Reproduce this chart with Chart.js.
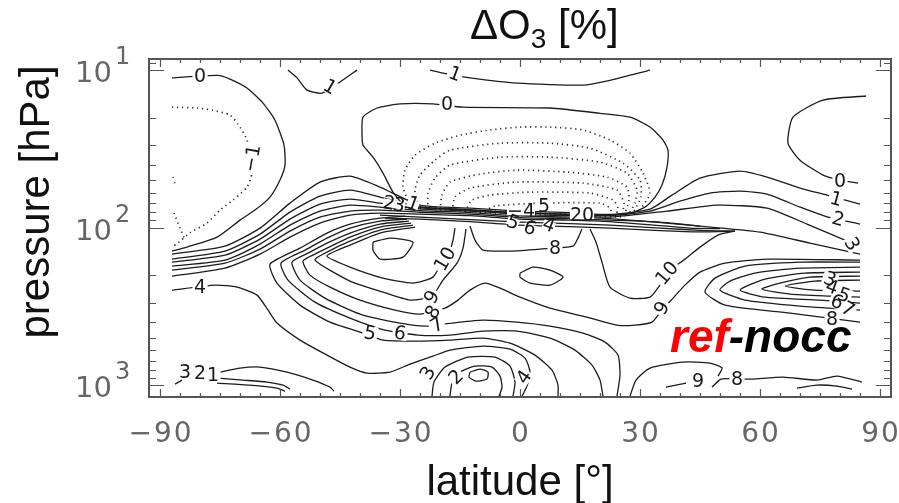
<!DOCTYPE html>
<html lang="en">
<head>
<meta charset="UTF-8">
<title>ΔO3 ref-nocc</title>
<script src="https://cdn.jsdelivr.net/npm/chart.js"></script>
<style>
  html, body { margin: 0; padding: 0; background: #fff; }
  #wrap { width: 899px; height: 503px; }
</style>
</head>
<body>
<div id="wrap"><canvas id="ozoneChart"></canvas></div>
<script>
// axis ticks
const latLabels = [-90, -60, -30, 0, 30, 60, 90];
const latMinor = [-90, -85, -80, -75, -70, -65, -60, -55, -50, -45, -40, -35, -30, -25, -20, -15, -10, -5, 0,
  5, 10, 15, 20, 25, 30, 35, 40, 45, 50, 55, 60, 65, 70, 75, 80, 85, 90];
const pressMajor = [10, 100, 1000];
const pressExp = ['1', '2', '3'];
const pressMinor = [9, 20, 30, 40, 50, 60, 70, 80, 90, 200, 300, 400, 500, 600, 700, 800, 900];

// contour lines, [latitude, pressure hPa]
const top0L = [[-87,11.2],[-75.5,10.8],[-72.5,11.4],[-68.25,13.0],[-64.25,16.2],[-61.25,20.8],[-59,29.9],[-58.75,40.1],[-60,49.9],[-62.5,64.0],[-66.25,77.4],[-70,89.6],[-75.75,115],[-83.25,133],[-87,141]];
const topM1 = [[-87,17.2],[-80.75,17.4],[-76.75,18.0],[-72.5,19.3],[-70,23.0],[-68.25,27.8],[-67.5,35.7],[-67,45.1],[-68.25,55.3],[-71.75,66.9],[-75,77.4],[-78.25,93.6],[-82.5,108],[-85.5,125],[-87,133]];
const topM2a = [[-86.75,47.8],[-86.25,53.0]];
const topM2b = [[-86.5,80.9],[-85,100.7],[-83.75,120]];
const top1L = [[-58,10.0],[-55.75,11.2],[-53.25,13.4],[-49.5,14.0],[-45,11.9],[-40.75,10.0]];
const top1R = [[-22.5,10.0],[-19.25,10.45],[-12.5,11.2],[-0.75,12.1],[15.75,12.45],[22.5,11.6],[32.5,10.0]];
const top0R = [[86.5,14.6],[75.75,15.5],[68.25,19.9],[67,29.1],[70,37.3],[75.75,46.4],[80,49.9],[84.5,52.2]];
const mid0 = [[-28.75,74.1],[-31.75,59.5],[-34.25,45.1],[-36.75,35.7],[-39.25,29.9],[-39.5,25.1],[-39.25,19.9],[-35.75,17.4],[-30,16.4],[-21.75,16.4],[-14.25,17.2],[7.5,17.4],[20,18.8],[27.5,19.9],[32.5,23.0],[35.75,27.8],[37,32.2],[36.75,41.3],[35.5,53.7],[33.75,64.0],[31.25,74.1],[27.5,80.9],[20,83.3],[10,82.1],[-5,79.7],[-17.5,76.3],[-28.75,74.1]];

const neg1 = [[-27.5,72.0],[-29.25,55.3],[-28.75,43.2],[-26.25,34.7],[-21.25,29.1],[-15,25.9],[-7.5,24.0],[0,23.0],[7.5,23.0],[15.75,24.0],[22.5,27.8],[27.5,33.7],[30.75,45.1],[32.5,60.4],[30,77.4]];
const neg2 = [[-25.5,74.1],[-26.25,57.8],[-25,46.4],[-21.25,37.3],[-17.5,32.2],[-5,29.1],[7.5,29.1],[17.5,31.3],[25.75,39.0],[30,49.9],[30.25,64.0],[28.5,78.6]];
const neg3 = [[-23,76.3],[-23,60.4],[-21.25,48.5],[-17.5,40.1],[-5,35.7],[7.5,35.7],[20,38.4],[26.75,45.1],[29.25,57.8],[28.75,69.9],[27.5,79.7]];
const neg4 = [[-20,77.4],[-19.5,62.2],[-17.5,51.4],[-10,45.7],[-0.75,43.2],[11.75,44.4],[21.75,47.8],[26.75,55.3],[27.25,66.9],[26.25,80.9]];
const neg5 = [[-17,78.6],[-16.25,64.0],[-12.5,56.1],[-0.75,51.4],[15.75,52.2],[24.25,57.8],[26,69.9],[25.5,82.1]];
const neg6 = [[-13.75,79.7],[-12,66.9],[-7.5,62.2],[2.5,59.5],[17.5,60.4],[23.25,66.9],[24.5,75.2],[24,83.3]];
const neg7 = [[-10,80.9],[-6.25,73.0],[5,69.9],[20,69.9],[22.5,75.2],[23,84.5]];
const neg8 = [[-30,74.1],[-17.5,77.4],[0,82.1],[17.5,84.5],[26.25,85.8]];
const neg9 = [[-27.5,73.0],[-12.5,77.4],[5,80.9],[20,83.3],[27.5,83.3]];

const band1 = [[-87,147.3],[-73.75,131.1],[-65,100.7],[-57.5,69.9],[-50,51.4],[-42.5,47.1],[-35,55.3],[-25,72.0],[-12.5,75.2],[0,78.6],[12.5,80.3],[22.5,82.5],[32.5,76.3],[38,62.2],[45,48.5],[55,43.8],[61.75,47.8],[70,56.1],[76.75,62.2],[85,70.9]];
const band2 = [[-87,158.5],[-73.75,141.0],[-65,110.0],[-57.5,79.7],[-50,63.1],[-42.5,57.8],[-35,64.0],[-25,74.0],[-12.5,76.8],[0,80.4],[12.5,82.1],[22.5,84.0],[32.5,78.6],[40,67.9],[47.5,60.4],[55,58.6],[61.75,61.3],[70,74.1],[77,85.8],[85,95.0]];
const band3 = [[-87,165.7],[-73.75,149.5],[-65,118.4],[-57.5,88.3],[-50,70.9],[-42.5,65.9],[-35,69.9],[-25,76.0],[-12.5,78.6],[0,82.3],[12.5,84.0],[22.5,85.8],[36.75,78.6],[49.25,72.0],[61.75,75.2],[71.75,95.0],[81.25,120.1],[85,133]];
const band4 = [[-87,175.6],[-73.75,160.8],[-65,127.3],[-57.5,96.4],[-50,78.6],[-42.5,72.0],[-35,74.1],[-25,77.9],[-12.5,80.3],[0,84.3],[12.5,85.8],[22.5,87.7],[45,97.8],[60,106.8],[72.5,125.5],[85,147.3]];
const band5 = [[-87,186.2],[-73.75,168.1],[-65,137.0],[-57.5,105.2],[-50,85.8],[-42.5,78.6],[-35,77.4],[-25,79.9],[-12.5,82.1],[0,86.3],[12.5,87.7],[22.5,89.6],[35,92.3],[45,97.8]];
const band6 = [[-87,203.2],[-73.75,180.8],[-65,147.3],[-57.5,114.9],[-50,93.6],[-42.5,83.3],[-35,80.9],[-25,82.1],[-12.5,84.0],[0,88.3],[12.5,89.6],[22.5,91.6],[42.5,100.7],[50,101.5]];
const band7 = [[-35,83.3],[-25,85.8],[-12.5,89.0],[0,92.3],[12.5,94.3],[22.5,96.4],[35,100.7],[45,104.0],[53.75,105.2]];
const band8 = [[-33.75,87.0],[-25,88.3],[-12.5,91.6],[0,96.4],[12.5,98.5],[22.5,100.7],[35,104.5],[45,106.5],[53.75,105.2]];

const line4 = [[-87,249.4],[-76.25,231.8],[-70.75,238.7],[-65.75,268.3],[-63,334.0],[-60.75,403.9],[-55,517.9],[-48.25,644.9],[-42.5,768.4],[-38.25,839.0],[-32.5,826.8],[-27.5,735.6],[-21.75,654.4],[-17.5,599.5],[-9.25,565.4],[-2.5,590.8],[1.25,673.8],[2.5,826.8],[1.75,1014.7],[0.5,1175]];
const line5 = [[-28.75,84.5],[-35,87.0],[-42.5,95.0],[-48.25,108.3],[-55,135.0],[-62.5,170.6],[-60.75,225.0],[-55,310.5],[-47.5,398.1],[-40,460.8],[-34.25,517.9],[-25.75,525.5],[-17.5,517.9],[-9.25,502.9],[-2.5,541.0],[3.75,644.9],[8,803.0],[9.5,1000],[9.5,1175]];
const line6 = [[-28.25,88.3],[-35,90.9],[-42.5,100.7],[-48.25,116.6],[-53.75,139.0],[-59.75,168.1],[-58,215.4],[-51.25,297.2],[-42.5,375.3],[-33.75,447.5],[-25.5,481.4],[-17.5,481.4],[-9.25,454.1],[-0.75,454.1],[7.5,502.9],[13.75,599.5],[18,746.4],[20,929.4],[20.75,1175]];
const line7 = [[-27.75,90.9],[-35,95.0],[-42.5,108.3],[-48.25,125.5],[-52.5,143.1],[-57,165.7],[-55,215.4],[-48.75,280.3],[-40,354.2],[-30,403.9],[-23.75,422.0],[-17,403.9],[-9.25,386.6],[-0.75,398.1],[7.5,422.0],[15.75,467.5],[21.25,533.3],[24.5,644.9],[25,863.9],[24.25,1175]];
const line8 = [[-27.25,93.6],[-35,99.2],[-42.5,114.9],[-48.25,135.0],[-51.25,147.3],[-54.25,163.3],[-52.5,200.3],[-47.5,238.7],[-40,288.6],[-31.25,334.0],[-25,354.2],[-18.75,324.3],[-15.5,288.6],[-12.5,249.4],[-8.75,225.0],[-5,242.2],[0,276.2],[7.5,324.3],[15.75,364.7],[24.25,415.9],[28.75,415.9],[33,398.1],[35.5,334.0],[38.25,280.3],[41.25,231.8],[45,191.7],[51.25,168.1],[61.75,158.5],[85,160.8]];
const line9 = [[-26.75,96.4],[-35,103.7],[-42.5,121.9],[-48.25,143.1],[-51.25,160.8],[-42.5,218.6],[-34.25,256.8],[-27.5,288.6],[-22,272.2],[-19.25,215.4],[-15.75,168.1],[-14.25,135.0],[-13.5,102.2]];
const line10 = [[-26.25,99.2],[-35,108.3],[-42.5,129.2],[-48.25,151.7],[-42.5,178.2],[-34.25,209.3],[-26.75,225.0],[-21.75,206.3],[-19.25,160.9],[-17.5,139.0],[-16.75,120.1],[-16.25,100.7]];
const maxLeft = [[-36.75,123.6],[-32.5,116.6],[-26.75,123.6],[-29.25,154.0],[-35,158.5],[-36.75,139.0],[-36.75,123.6]];
const maxMid = [[0,194.6],[3.25,178.2],[7.5,186.2],[10.75,206.3],[7.5,231.8],[2.5,225.0],[0,206.3],[0,194.6]];
const line8U = [[-12.5,97.8],[-11.25,120.1],[-9.25,139.0],[-2.5,141.0],[5,137.0],[13.25,131.1],[14.5,116.6],[15.5,102.2]];
const line10R = [[17.5,102.2],[19,123.6],[20.5,165.7],[22.5,238.7],[27.5,280.3],[32.5,276.2],[35,231.8],[37.5,186.2],[41.25,158.5],[45,133.0],[49.5,111.6],[53.75,105.2]];

const chev4 = [[85,215.4],[73.75,218.6],[66.25,235.2],[73.75,249.4],[85,253.1]];
const chev5 = [[85,203.2],[72.5,206.3],[65,225.0],[60.5,245.8],[67.5,264.4],[77.5,272.2],[85,276.2]];
const chev6 = [[85,191.7],[71.25,194.6],[61.25,212.4],[55,249.4],[61.25,276.2],[75,288.6],[85,301.5]];
const chev7 = [[85,178.2],[70,180.8],[58.75,194.6],[52.5,218.6],[50,249.4],[56.25,288.6],[70,315.1],[85,334.0]];
const chev8 = [[85,165.7],[70,165.7],[56.25,175.6],[48.75,209.3],[46.25,256.8],[51.25,310.5],[67.5,349.3],[85,398.1]];

const min1 = [[-12.5,826.8],[-10,791.4],[-8,826.8],[-8.25,916],[-11,943],[-12.75,889.5],[-12.5,826.8]];
const min2 = [[-17.5,1175],[-17,971],[-15,826.8],[-11.25,757.4],[-7,768.4],[-5,876.6],[-4.5,1030],[-5.25,1175]];
const min3 = [[-22,1175],[-21.5,957],[-18.75,768.4],[-13,664.1],[-6.25,664.1],[-2.5,757.4],[-1.25,957],[-1.75,1175]];
const sfc1 = [[-75,826.8],[-70,779.8],[-65,768.4],[-58.25,826.8],[-51.75,929.4],[-47.5,1030],[-46.5,1092]];
const sfc2 = [[-75.5,902.6],[-69.25,929.4],[-63.25,957],[-59.25,1000],[-57.5,1060]];
const sfc3 = [[-75.75,971],[-67.5,1000],[-60.75,1045],[-58.75,1092]];
const sfcDash = [[-86.25,985],[-84.5,929.4]];
const nineTop = [[27.5,1175],[29,929.4],[32.5,779.8],[40.75,714.4],[47.5,725.0],[50.5,779.8],[49.5,876.6]];
const nineDash = [[36.5,1030],[41.5,971]];
const eightSfc = [[48,1030],[50.25,916],[54.25,916],[58,916],[65.75,889.5],[74.25,929.4],[79.25,876.6],[85.5,957]];
const eightLow = [[69.25,1045],[74.25,1000],[79.25,1015],[83,1060]];

// contour labels: text, latitude, pressure, rotation (deg), backing box
const contourLabels = [
  ['0', -80, 10.9, 0, true], ['−1', -67, 36.4, -80, true], ['1', -47.5, 12.8, 30, true], ['1', -16.25, 10.6, 20, true],
  ['0', -18.25, 16.4, 0, true], ['0', 80, 50.7, 0, true], ['1', 79, 65.9, 15, true], ['2', 79.5, 88.3, 15, true], ['3', 83, 127.3, 60, true],
  ['2', -32.75, 69.9, 10, false], ['3', -30.25, 72.0, 10, false], ['1', -26.75, 70.9, 20, false],
  ['−4', 0.25, 78.6, 0, false], ['5', 6, 73.0, 0, false], ['20', 15.5, 83.3, 0, false], ['5', -1.75, 92.3, 20, false], ['6', 2.5, 100.7, 20, false],
  ['4', 7.25, 96.4, 20, false], ['8', 8.75, 135.0, 0, true],
  ['10', -18.75, 158.5, -60, true], ['9', -22, 276.2, -60, true], ['8', -21.75, 344.0, -60, true], ['7', -20.75, 415.9, -30, true],
  ['6', -30, 467.5, 10, true], ['5', -37.5, 467.5, 10, true], ['4', -80, 238.7, 0, true],
  ['10', 36.75, 194.6, -50, true], ['9', 35.5, 324.3, -60, true],
  ['3', 77.5, 212.4, 20, true], ['4', 78, 238.7, 20, true], ['5', 81, 268.3, 20, true], ['6', 79.25, 297.2, 20, true], ['7', 82, 329.2, 30, true], ['8', 78, 380.9, 0, true],
  ['3', -23, 839.0, -60, true], ['2', -16, 889.5, -45, true], ['4', 1, 889.5, -55, true],
  ['3', -83.75, 826.8, 0, true], ['2', -80, 839.0, 0, true], ['1', -76.75, 864, 0, true],
  ['9', 44.5, 943, 0, true], ['8', 54.25, 916, 0, true]
];

const solidLines = [top0L, top1L, top1R, top0R, mid0, band1, band2, band3, band4, band5, band6, band7, band8,
  line4, line5, line6, line7, line8, line9, line10, maxLeft, maxMid, line8U, line10R,
  chev4, chev5, chev6, chev7, chev8, min1, min2, min3, sfc1, sfc2, sfc3, sfcDash,
  nineTop, nineDash, eightSfc, eightLow];
const dottedLines = [topM1, topM2a, topM2b, neg1, neg2, neg3, neg4, neg5, neg6, neg7, neg8, neg9];

function toXY(arr) {
  return arr.map(([lat, p]) => ({ x: lat, y: p }));
}

const datasets = [];
solidLines.forEach(line => datasets.push({
  data: toXY(line), showLine: true, borderColor: '#1c1c1c', borderWidth: 1.3,
  pointRadius: 0, tension: 0.2, fill: false
}));
dottedLines.forEach(line => datasets.push({
  data: toXY(line), showLine: true, borderColor: '#2a2a2a', borderWidth: 1.7,
  borderDash: [1.2, 3.8], pointRadius: 0, tension: 0.2, fill: false
}));

const framePlugin = {
  id: 'frame',
  afterDatasetsDraw(chart) {
    const { ctx, chartArea: a, scales: { x, y } } = chart;
    ctx.save();
    // contour labels: white backing first, then the digits
    ctx.font = '19px "DejaVu Sans"';
    ctx.textAlign = 'center';
    ctx.textBaseline = 'middle';
    const placed = contourLabels.map(([t, lat, p, rot, box]) => ({
      t, box, px: x.getPixelForValue(lat), py: y.getPixelForValue(p), r: rot * Math.PI / 180
    }));
    placed.forEach(l => {
      ctx.save(); ctx.translate(l.px, l.py); ctx.rotate(l.r);
      const w = ctx.measureText(l.t).width;
      ctx.fillStyle = '#fff';
      if (l.box) ctx.fillRect(-w / 2 - 1.5, -7, w + 3, 14);
      else ctx.fillRect(-w / 2, -4, w, 8);
      ctx.restore();
    });
    placed.forEach(l => {
      ctx.save(); ctx.translate(l.px, l.py); ctx.rotate(l.r);
      ctx.fillStyle = '#1a1a1a';
      ctx.fillText(l.t, 0, 1);
      ctx.restore();
    });

    // inward ticks on all four sides
    ctx.strokeStyle = '#555';
    ctx.lineWidth = 1.2;
    ctx.beginPath();
    latMinor.forEach(v => {
      const px = Math.round(x.getPixelForValue(v)) + 0.5;
      const len = latLabels.includes(v) ? 8 : 4;
      ctx.moveTo(px, a.bottom); ctx.lineTo(px, a.bottom - len);
      ctx.moveTo(px, a.top); ctx.lineTo(px, a.top + len);
    });
    pressMinor.concat(pressMajor).forEach(v => {
      const py = Math.round(y.getPixelForValue(v)) + 0.5;
      const len = pressMajor.includes(v) ? 15 : 7;
      ctx.moveTo(a.left, py); ctx.lineTo(a.left + len, py);
      ctx.moveTo(a.right, py); ctx.lineTo(a.right - len, py);
    });
    ctx.stroke();
    ctx.lineWidth = 2;
    ctx.strokeRect(a.left, a.top, a.right - a.left, a.bottom - a.top);
    ctx.restore();
  },
  afterDraw(chart) {
    const { ctx, scales: { x, y } } = chart;
    ctx.save();
    // x tick labels
    ctx.fillStyle = '#666';
    ctx.font = '28px "DejaVu Sans"';
    ctx.textBaseline = 'alphabetic';
    ctx.textAlign = 'left';
    ctx.letterSpacing = '2px';
    latLabels.forEach(v => {
      const t = v < 0 ? '−' + Math.abs(v) : String(v);
      const w = ctx.measureText(t).width - 2;
      ctx.fillText(t, x.getPixelForValue(v) - w / 2, 442);
    });
    ctx.letterSpacing = '0px';
    // y tick labels 10^n
    pressMajor.forEach((v, i) => {
      const py = y.getPixelForValue(v);
      ctx.font = '29px "DejaVu Sans"';
      ctx.textAlign = 'right';
      ctx.fillText('10', 112, py + 12);
      ctx.font = '24px "DejaVu Sans"';
      ctx.textAlign = 'left';
      ctx.fillText(pressExp[i], 115, py - 6);
    });

    // axis titles
    ctx.fillStyle = '#111';
    ctx.font = '42px "Liberation Sans"';
    ctx.textAlign = 'center';
    ctx.fillText('latitude [°]', 520, 495);
    ctx.save();
    ctx.translate(49, 202);
    ctx.rotate(-Math.PI / 2);
    ctx.fillText('pressure [hPa]', 0, 0);
    ctx.restore();

    // title ΔO3 [%]
    ctx.textAlign = 'left';
    let tx = 470;
    ctx.font = '42px "Liberation Sans"';
    ctx.fillText('ΔO', tx, 39);
    tx += ctx.measureText('ΔO').width;
    ctx.font = '28px "Liberation Sans"';
    ctx.fillText('3', tx, 48);
    tx += ctx.measureText('3').width;
    ctx.font = '42px "Liberation Sans"';
    ctx.fillText(' [%]', tx, 39);

    // experiment tag
    ctx.font = 'italic bold 46px "Liberation Sans"';
    ctx.fillStyle = '#ff0000';
    ctx.fillText('ref', 670, 352);
    const rw = ctx.measureText('ref').width;
    ctx.fillStyle = '#000';
    ctx.fillText('-nocc', 670 + rw, 352);
    ctx.restore();
  }
};

const ctx = document.getElementById('ozoneChart').getContext('2d');
new Chart(ctx, {
  type: 'scatter',
  data: { datasets },
  options: {
    responsive: true,
    maintainAspectRatio: false,
    animation: false,
    layout: { padding: { top: 59, right: 8, left: 0, bottom: 0 } },
    plugins: { legend: { display: false }, tooltip: { enabled: false } },
    scales: {
      x: {
        type: 'linear', min: -92.75, max: 92.75,
        grid: { display: false }, border: { display: false }, ticks: { display: false },
        afterFit(scale) { scale.height = 106; }
      },
      y: {
        type: 'logarithmic', reverse: true, min: 8.5, max: 1190,
        grid: { display: false }, border: { display: false }, ticks: { display: false },
        afterFit(scale) { scale.width = 149; }
      }
    }
  },
  plugins: [framePlugin]
});
</script>
</body>
</html>
